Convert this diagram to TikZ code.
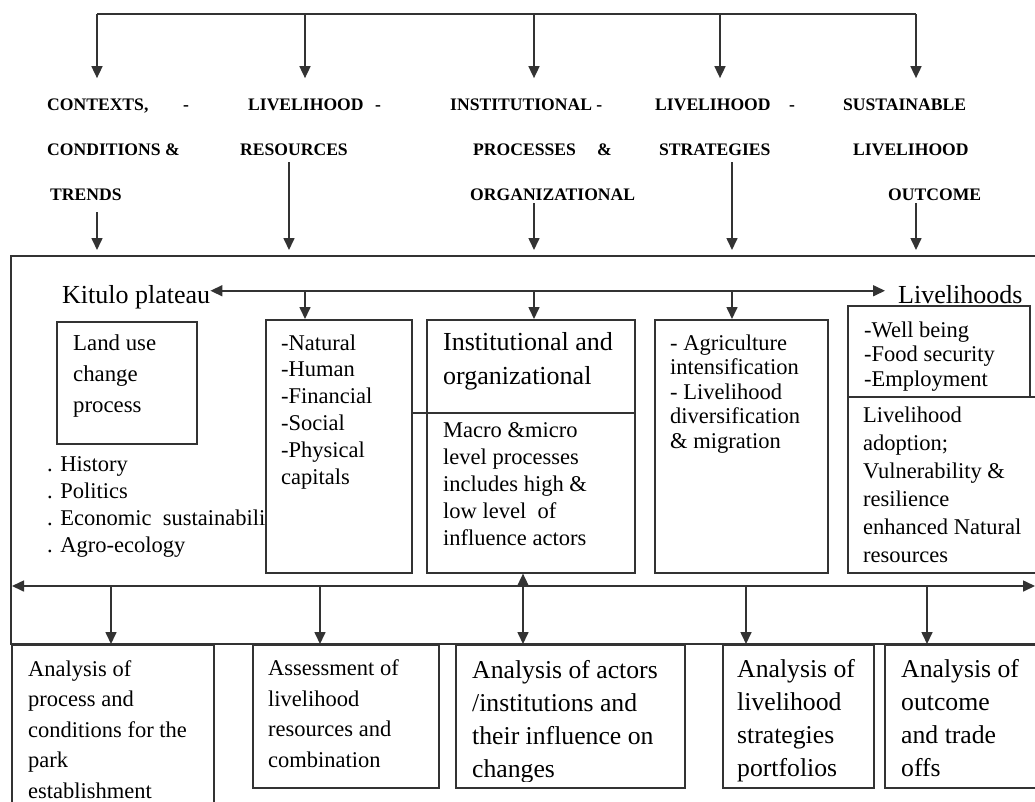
\documentclass[tikz,border=0pt]{standalone}
\usepackage{fontspec}
\setmainfont{Liberation Serif}
\usetikzlibrary{positioning,arrows.meta,fit}
\newcommand{\setfs}[2]{\fontsize{#1}{#2}\selectfont}
\tikzset{
    hdr/.style={align=left, inner sep=0, anchor=base west, font=\setfs{17.6}{45}\bfseries},
    txt/.style={align=left, inner sep=0, anchor=base west, font=\setfs{22.5}{27}},
    ln/.style={draw=black!80, line width=1.6pt},
    box/.style={ln, fill=white, inner sep=0, anchor=north west},
    arr/.style={ln, -{Triangle[width=11pt,length=12pt]}},
    arrs/.style={ln, {Triangle[width=11pt,length=12pt]}-{Triangle[width=11pt,length=12pt]}},
}
\begin{document}
\begin{tikzpicture}[x=1pt, y=-1pt]
    \useasboundingbox (0,0) rectangle (1035,801);
    % headings (placed at the baseline of their last line)
    \node[hdr] (ctx) at (47,200) {\makebox[136pt][l]{CONTEXTS,}-\\CONDITIONS \&\\\hspace*{3pt}TRENDS};
    \node[hdr] (res) at (240,155) {\hspace*{8pt}\makebox[127pt][l]{LIVELIHOOD}-\\RESOURCES};
    \node[hdr] (inst) at (450,200) {INSTITUTIONAL -\\\hspace*{23pt}\makebox[124pt][l]{PROCESSES}\&\\\hspace*{20pt}ORGANIZATIONAL};
    \node[hdr] (strat) at (655,155) {\makebox[134pt][l]{LIVELIHOOD}-\\\hspace*{4pt}STRATEGIES};
    \node[hdr] (outc) at (843,200) {SUSTAINABLE\\\hspace*{10pt}LIVELIHOOD\\\hspace*{45pt}OUTCOME};
    \coordinate (t1) at (97,14);
    \coordinate (t2) at (305,14);
    \coordinate (t3) at (534,14);
    \coordinate (t4) at (720,14);
    \coordinate (t5) at (916,14);
    \draw[ln] (t1) -- (t5);
    \foreach \t/\h in {t1/ctx, t2/res, t3/inst, t4/strat, t5/outc}
        \draw[arr, shorten >=20pt] (\t) -- (\t |- \h.north);
    % frame
    \node[fit={(11,256) (1045,644)}, inner sep=0, ln] (frame) {};
    \coordinate (d1) at (97,256);
    \coordinate (d2) at (289,256);
    \coordinate (d3) at (534,256);
    \coordinate (d4) at (732,256);
    \coordinate (d5) at (916,256);
    \foreach \h/\d/\s in {ctx/d1/12, res/d2/7, inst/d3/3, strat/d4/7, outc/d5/3}
        \draw[arr, shorten <=\s pt, shorten >=6pt] (\h.south -| \d) -- (\d);
    \node[txt, font=\setfs{26}{30}] (kitulo) at (62,303) {Kitulo plateau};
    \node[txt, font=\setfs{26}{30}] (livh) at (898,303) {Livelihoods};
    \coordinate (kl) at ([yshift=6pt]kitulo.east);
    \draw[arrs, shorten >=13pt] (kl) -- (kl -| livh.west);
    \node[txt] (fac) at (47,552) {. History\\. Politics\\. Economic\ \ sustainability\\. Agro-ecology};
    % boxes
    \node[box, minimum width=140pt, minimum height=122pt] (landuse) at (56,321) {};
    \node[box, minimum width=146pt, minimum height=253pt] (cap) at (265,319) {};
    \node[box, minimum width=208pt, minimum height=253pt] (instbox) at (426,319) {};
    \node[box, minimum width=173pt, minimum height=253pt] (stratbox) at (654,319) {};
    \node[box, minimum width=182pt, minimum height=91pt] (wellbox) at (847,305) {};
    \node[box, minimum width=200pt, minimum height=176pt] (adoptbox) at (847,396) {};
    \foreach \t/\b in {t2/cap, t3/instbox, d4/stratbox}
        \draw[arr] (kl -| \t) -- (\t |- \b.north);
    \coordinate (dv) at (0,413);
    \draw[ln] (dv -| cap.east) -- (dv -| instbox.east);
    \node[txt, font=\setfs{22.8}{31}] (lutxt) at (73,412) {Land use\\change\\process};
    \node[txt, font=\setfs{22.5}{26.8}] (captxt) at (281,484) {-Natural\\-Human\\-Financial\\-Social\\-Physical\\capitals};
    \node[txt, font=\setfs{26}{34}] (insttl) at (443,384) {Institutional and\\organizational};
    \node[txt] (macro) at (443,545) {Macro \&micro\\level processes\\includes high \&\\low level\ \ of\\influence actors};
    \node[txt, font=\setfs{22.5}{24.5}] (strtxt) at (670,448) {- Agriculture\\intensification\\- Livelihood\\diversification\\\& migration};
    \node[txt, font=\setfs{22.5}{24.3}] (welltxt) at (864,386) {-Well being\\-Food security\\-Employment};
    \node[txt, font=\setfs{22.5}{28}] (adtxt) at (863,562) {Livelihood\\adoption;\\Vulnerability \&\\resilience\\enhanced Natural\\resources};
    % analysis
    \coordinate (bl) at (12,586);
    \coordinate (br) at (1035,586);
    \draw[arrs] (bl) -- (br);
    \node[box, minimum width=202pt, minimum height=171pt] (b1) at (11,644) {};
    \node[box, minimum width=186pt, minimum height=143pt] (b2) at (252,644) {};
    \node[box, minimum width=229pt, minimum height=143pt] (b3) at (455,644) {};
    \node[box, minimum width=151pt, minimum height=143pt] (b4) at (722,644) {};
    \node[box, minimum width=160pt, minimum height=143pt] (b5) at (884,644) {};
    \foreach \x/\b in {111/b1, 320/b2, 746/b4, 927/b5}{
        \coordinate (s) at (\x,586);
        \draw[arr] (s) -- (s |- \b.north);
    }
    \coordinate (s3) at (523,586);
    \draw[arrs] (s3 |- instbox.south) -- (s3 |- b3.north);
    \node[txt, font=\setfs{22.5}{30.5}] (bt1) at (28,798) {Analysis of\\process and\\conditions for the\\park\\establishment};
    \node[txt, font=\setfs{22.5}{30.5}] (bt2) at (268,767) {Assessment of\\livelihood\\resources and\\combination};
    \begin{scope}
        \clip (455,644) rectangle (1035,781);
        \node[txt, font=\setfs{25.7}{33}] (bt3) at (472,777) {Analysis of actors\\/institutions and\\their influence on\\changes};
        \node[txt, font=\setfs{25.7}{33}] (bt4) at (737,776) {Analysis of\\livelihood\\strategies\\portfolios};
        \node[txt, font=\setfs{25.7}{33}] (bt5) at (901,776) {Analysis of\\outcome\\and trade\\offs};
    \end{scope}
\end{tikzpicture}
\end{document}
